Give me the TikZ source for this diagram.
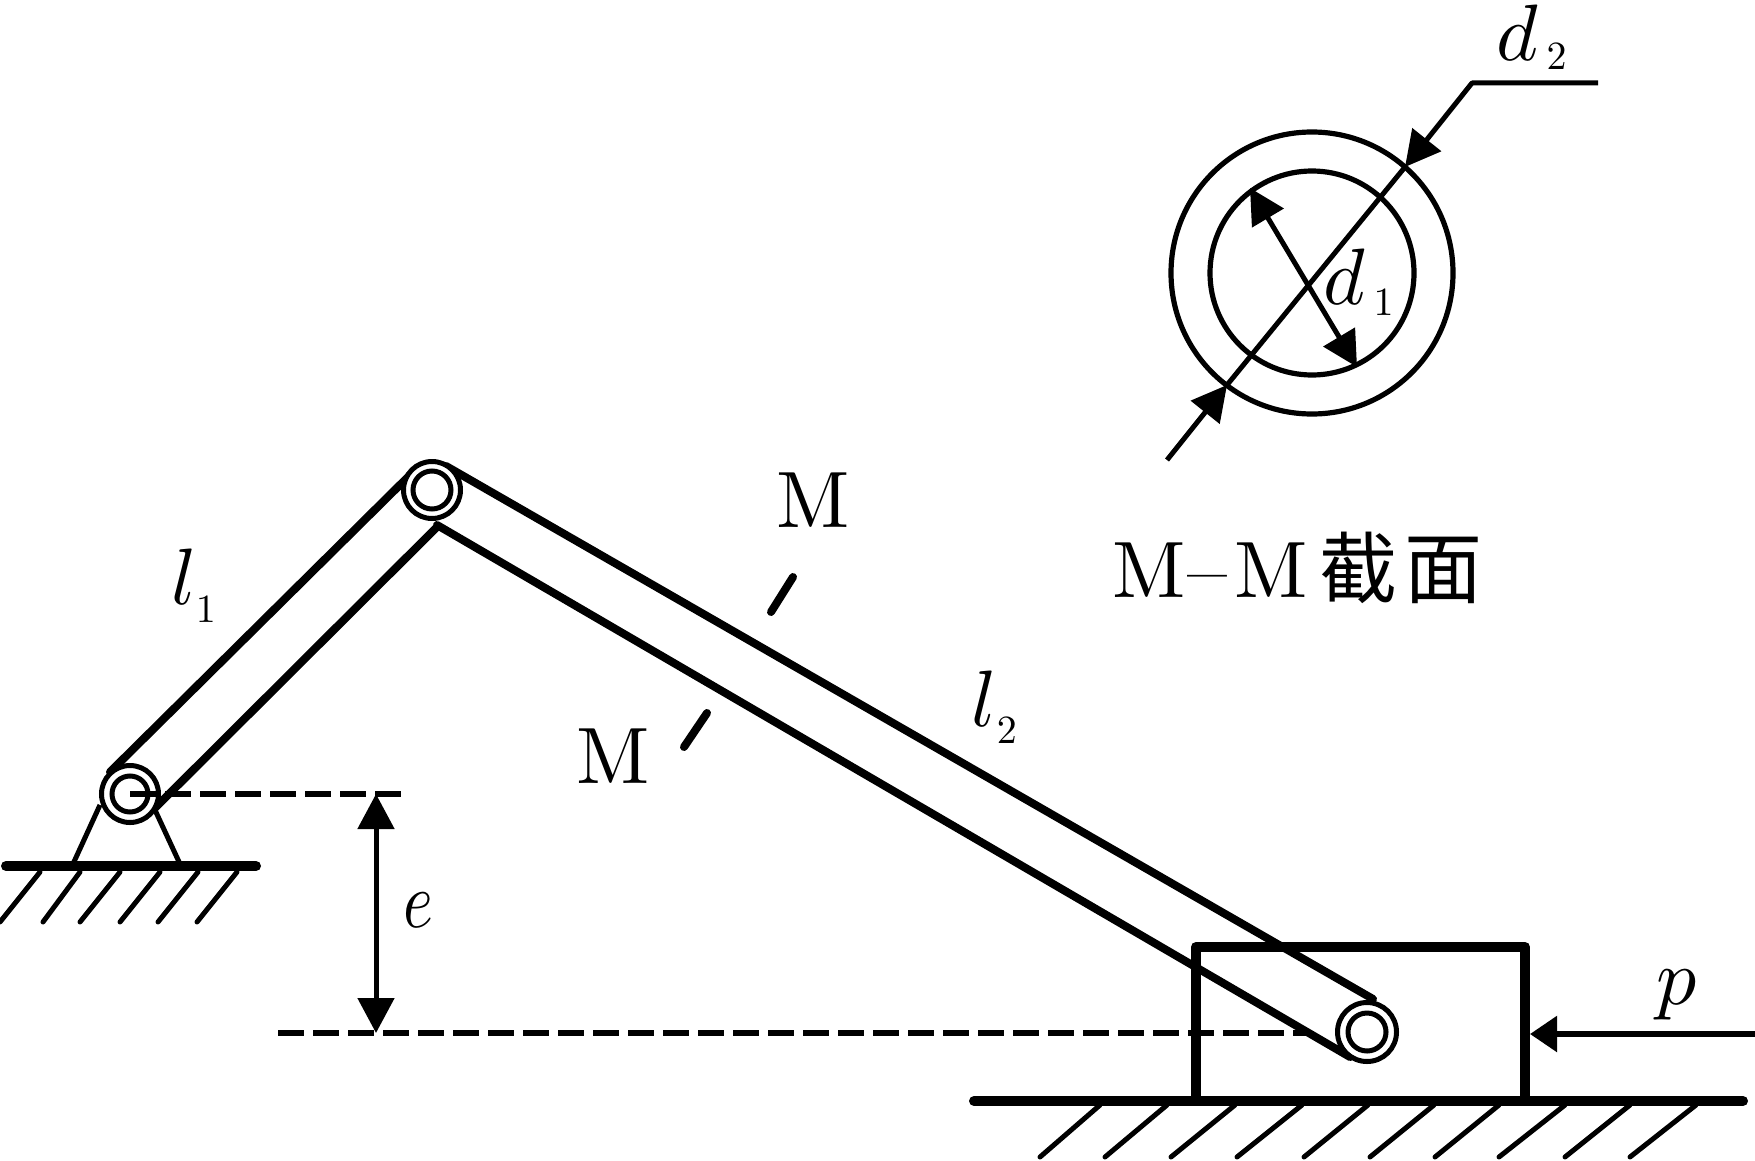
\documentclass[tikz,border=0pt]{standalone}
\usepackage{fontspec}
\usetikzlibrary{arrows.meta}
\newfontfamily\cjkfont{Noto Sans CJK SC}
\font\mathitbig=cmmi10 at 40pt
\font\rmbig=cmr10 at 40pt
\font\rmsub=cmr10 at 20pt
\newcommand{\labsub}[4]{{\mathitbig #1}\kern#3\raisebox{#4}{\rmsub #2}}
\tikzset{
  x=0.5pt,y=-0.5pt,
  linkone/.style={line width=4pt,line cap=round},
  linktwo/.style={line width=4pt,line cap=round},
  ringout/.style={circle,draw,line width=2.5pt,fill=white,minimum size=28.5pt,inner sep=0pt,outer sep=0pt},
  ringin/.style={circle,draw,line width=2.5pt,minimum size=18pt,inner sep=0pt,outer sep=0pt},
  ground/.style={line width=5pt,line cap=round},
  hatch/.style={line width=2.5pt,line cap=round},
  support/.style={line width=2.5pt},
  blockbox/.style={line width=5pt,line join=round},
  dim/.style={line width=2.5pt},
  dashline/.style={line width=2.8pt,dash pattern=on 13pt off 4.5pt},
  tick/.style={line width=4pt,line cap=round},
  bighead/.style={-{Triangle[length=17.5pt,width=18pt]}},
  bothhead/.style={{Triangle[length=17.5pt,width=18pt]}-{Triangle[length=17.5pt,width=18pt]}},
  forcehead/.style={-{Triangle[length=13.5pt,width=17.5pt]}},
  secout/.style={circle,draw,line width=2.6pt,minimum size=141pt,inner sep=0pt,outer sep=0pt},
  secin/.style={circle,draw,line width=2.6pt,minimum size=102pt,inner sep=0pt,outer sep=0pt},
  txt/.style={inner sep=0pt,outer sep=0pt,anchor=base west},
}
\begin{document}
\begin{tikzpicture}
\useasboundingbox (0,0) rectangle (1755,1161);
% key points
\coordinate (pA) at (130,794);
\coordinate (pB) at (432,490);
\coordinate (pC) at (1367,1032);
% block
\coordinate (blTL) at (1196,947);
\coordinate (blTR) at (1525,947);
\coordinate (blBL) at (1196,1101);
\coordinate (blBR) at (1525,1101);
\draw[blockbox] (blBL) -- (blTL) -- (blTR) -- (blBR);
% link 1
\coordinate (l1a) at (110,772);
\coordinate (l1b) at (411,474);
\coordinate (l1c) at (155,808);
\coordinate (l1d) at (437,527);
\draw[linkone] (l1a) -- (l1b);
\draw[linkone] (l1c) -- (l1d);
% link 2
\coordinate (l2a) at (446,466);
\coordinate (l2b) at (1373,999);
\coordinate (l2c) at (437,525);
\coordinate (l2d) at (1350,1057);
\draw[linktwo] (l2a) -- (l2b);
\draw[linktwo] (l2c) -- (l2d);
% support
\coordinate (s1) at (100,805);
\coordinate (s2) at (73,864);
\coordinate (s3) at (155,810);
\coordinate (s4) at (180,864);
\draw[support] (s1) -- (s2);
\draw[support] (s3) -- (s4);
% grounds
\coordinate (g1a) at (6,866);
\coordinate (g1b) at (256,866);
\draw[ground] (g1a) -- (g1b);
\foreach \a/\b in {40/0,80/43,120/80,160/120,198/158,237/197}
  \draw[hatch] (\a,872) -- (\b,922);
\coordinate (g2a) at (974,1101);
\coordinate (g2b) at (1743,1101);
\draw[ground] (g2a) -- (g2b);
\foreach \a/\b in {1100/1040,1167/1105,1235/1171,1302/1237,1368/1304,1434/1370,1499/1435,1565/1499,1630/1565,1696/1630}
  \draw[hatch] (\a,1105) -- (\b,1157);
% pins
\node[ringout] (pinA) at (pA) {};
\node[ringin] (pinAi) at (pA) {};
\node[ringout] (pinB) at (pB) {};
\node[ringin,minimum size=19pt] (pinBi) at (pB) {};
\node[ringout,minimum size=29.5pt] (pinC) at (pC) {};
\node[ringin,minimum size=19pt] (pinCi) at (pC) {};
% dashed lines
\coordinate (d1e) at (405,794);
\coordinate (d2s) at (278,1033);
\coordinate (d2e) at (1308,1033);
\draw[dashline] (pA) -- (d1e);
\draw[dashline] (d2s) -- (d2e);
% e dimension
\coordinate (eTop) at (376,794);
\coordinate (eBot) at (376,1033);
\draw[dim,bothhead] (eBot) -- (eTop);
% force p
\coordinate (fS) at (1755,1034);
\coordinate (fT) at (1530,1034);
\draw[dim,line width=2.8pt,forcehead] (fS) -- (fT);
% cutting ticks
\coordinate (t1a) at (793,577);
\coordinate (t1b) at (771,612);
\coordinate (t2a) at (707,713);
\coordinate (t2b) at (684,747);
\draw[tick] (t1a) -- (t1b);
\draw[tick] (t2a) -- (t2b);
% section
\coordinate (sc) at (1312,273);
\node[secout] (secO) at (sc) {};
\node[secin] (secI) at (sc) {};
\coordinate (d2up) at (1405,167);
\coordinate (d2lo) at (1227,385);
\coordinate (d2end) at (1167,460);
\coordinate (d2knee) at (1472,83);
\coordinate (d2far) at (1598,83);
\draw[dim,bighead,line join=round] (d2far) -- (d2knee) -- (d2up);
\draw[dim] (d2up) -- (d2lo);
\draw[dim,bighead] (d2end) -- (d2lo);
\coordinate (d1up) at (1250,188);
\coordinate (d1lo) at (1357,367);
\draw[dim,bothhead] (d1up) -- (d1lo);
% labels
\node[txt] (lab1) at (171,604) {\labsub{l}{1}{0.5pt}{-9pt}};
\node[txt] (lab2) at (971,726) {\labsub{l}{2}{1pt}{-8.5pt}};
\node[txt] (labd1) at (1323,304) {\labsub{d}{1}{4.5pt}{-5.5pt}};
\node[txt] (labd2) at (1496,61) {\labsub{d}{2}{4.5pt}{-4.5pt}};
\node[txt] (labe) at (403,927) {\scalebox{.8}[1]{\mathitbig e}};
\node[txt] (labp) at (1656,1004) {{\mathitbig p}};
\node[txt,anchor=base] (labM1) at (813,527) {\rmbig M};
\node[txt,anchor=base] (labM2) at (613,783) {\rmbig M};
\node[txt] (labS) at (1112,597) {\rmbig M\kern1pt--\kern3.5pt M\kern6pt{\cjkfont\fontsize{39}{48}\selectfont 截\kern3.5pt 面}};
\end{tikzpicture}
\end{document}
